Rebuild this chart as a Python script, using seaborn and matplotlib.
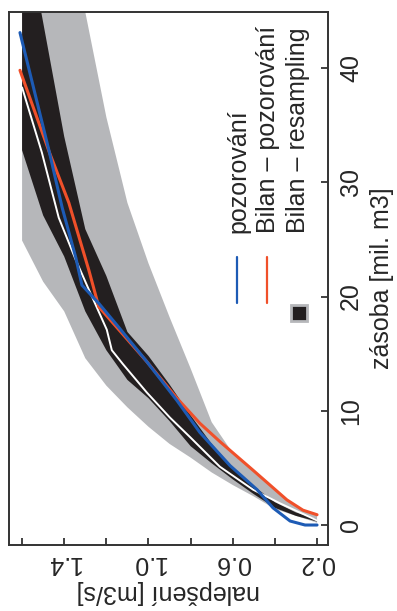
import matplotlib
matplotlib.use("Agg")
import matplotlib.pyplot as plt
import seaborn as sns
import pandas as pd

# nalepseni [m3/s] grid for the resampling bands
n_grid = [1.6, 1.5, 1.4, 1.3, 1.2, 1.1, 1.0, 0.9, 0.8, 0.7, 0.6, 0.5, 0.4, 0.3, 0.2]
gray_hi = [72, 63, 54, 44.9, 35.7, 28.2, 22.9, 18.2, 13.7, 9.0, 6.3, 4.7, 3.1, 1.6, 0.9]
gray_lo = [24.9, 21.3, 18.7, 14.6, 12.2, 10.3, 8.6, 7.1, 5.9, 4.6, 3.5, 2.5, 1.4, 0.8, 0.2]
black_hi = [54, 44.0, 34.0, 25.9, 21.8, 16.9, 14.8, 12.3, 9.6, 7.1, 5.0, 3.4, 2.0, 1.1, 0.5]
black_lo = [32.8, 27.1, 23.5, 18.7, 15.3, 12.7, 11.1, 9.1, 6.9, 5.4, 4.0, 2.7, 1.5, 0.8, 0.3]

# pozorovani
blue_n = [1.61, 1.47, 1.41, 1.345, 1.316, 1.236, 1.141, 1.008, 0.865, 0.756, 0.613, 0.485, 0.409, 0.328, 0.257, 0.2]
blue_z = [43.1, 32.6, 27.8, 23.4, 21.0, 19.4, 17.3, 14.3, 10.9, 8.1, 5.2, 3.1, 1.5, 0.35, 0.0, 0.0]

# Bilan - pozorovani
red_n = [1.61, 1.47, 1.378, 1.283, 1.236, 1.141, 1.008, 0.865, 0.756, 0.661, 0.504, 0.343, 0.267, 0.2]
red_z = [39.8, 32.6, 28.2, 22.3, 19.1, 17.1, 14.3, 11.1, 8.9, 7.3, 4.8, 2.2, 1.3, 0.9]

# Bilan - resampling (median)
white_n = [1.6, 1.506, 1.426, 1.345, 1.283, 1.198, 1.174, 1.122, 1.008, 0.898, 0.803, 0.661, 0.504, 0.376, 0.2]
white_z = [38.3, 32.6, 26.9, 23.2, 20.6, 17.1, 15.3, 14.1, 11.6, 9.4, 7.7, 5.1, 3.1, 1.9, 0.4]

x_ticks = [0.2, 0.4, 0.6, 0.8, 1.0, 1.2, 1.4, 1.6]
x_ticklabels = ["0.2", "", "0.6", "", "1.0", "", "1.4", ""]
y_ticks = [0, 10, 20, 30, 40]
legend_labels = ["pozorování", "Bilan – pozorování", "Bilan – resampling"]

c_blue = "#1d5bb5"
c_red = "#f0502a"
c_gray = "#b6b7ba"
c_black = "#231f20"
c_axis = "#333333"

sns.set_style("ticks")
plt.rcParams["font.family"] = ["Liberation Sans", "DejaVu Sans"]
plt.rcParams["font.size"] = 18

fig = plt.figure(figsize=(3.97, 6.11), dpi=100)
ax = fig.add_axes([0.0227, 0.108, 0.8035, 0.8723])

ax.fill_between(n_grid, gray_lo, gray_hi, color=c_gray, linewidth=0)
ax.fill_between(n_grid, black_lo, black_hi, color=c_black, linewidth=0)

lines = pd.concat([
    pd.DataFrame({"n": white_n, "z": white_z, "s": "white"}),
    pd.DataFrame({"n": red_n, "z": red_z, "s": "red"}),
    pd.DataFrame({"n": blue_n, "z": blue_z, "s": "blue"}),
])
for s, col, lw in [("white", "white", 1.4), ("red", c_red, 2.2), ("blue", c_blue, 2.2)]:
    d = lines[lines["s"] == s]
    sns.lineplot(data=d, x="n", y="z", color=col, linewidth=lw, sort=False,
                 estimator=None, ax=ax)

ax.set_xlim(1.662, 0.148)
ax.set_ylim(-1.75, 44.9)

ax.set_xticks(x_ticks)
ax.set_xticklabels(x_ticklabels)
ax.set_yticks(y_ticks)
ax.yaxis.tick_right()
ax.yaxis.set_label_position("right")
ax.tick_params(axis="both", direction="in", length=5, width=1.3, color=c_axis,
               labelsize=18)
ax.tick_params(axis="x", labelrotation=180, pad=4)
ax.tick_params(axis="y", labelrotation=90, pad=8)
for lab in ax.get_yticklabels():
    lab.set_va("center")

ax.set_xlabel("nalepšení [m3/s]", rotation=180, fontsize=18, va="center")
ax.xaxis.set_label_coords(0.5, -0.088)
ax.set_ylabel("zásoba [mil. m3]", rotation=90, fontsize=18, ha="center", va="center")
ax.yaxis.set_label_coords(1.169, 0.5)

for sp in ax.spines.values():
    sp.set_visible(True)
    sp.set_color(c_axis)
    sp.set_linewidth(1.4)

# legend, drawn rotated like the rest of the figure
ax.plot([0.715, 0.715], [0.454, 0.540], color=c_blue, lw=1.6, transform=ax.transAxes)
ax.plot([0.809, 0.809], [0.454, 0.540], color=c_red, lw=1.6, transform=ax.transAxes)
ax.plot([0.909], [0.435], marker="s", markersize=11, color=c_black,
        markeredgecolor=c_gray, markeredgewidth=2, transform=ax.transAxes)
for xt, txt in zip([0.718, 0.812, 0.906], legend_labels):
    ax.text(xt, 0.585, txt, rotation=90, rotation_mode="anchor", ha="left",
            va="center", fontsize=18, transform=ax.transAxes)

fig.savefig("out.png", dpi=100)
